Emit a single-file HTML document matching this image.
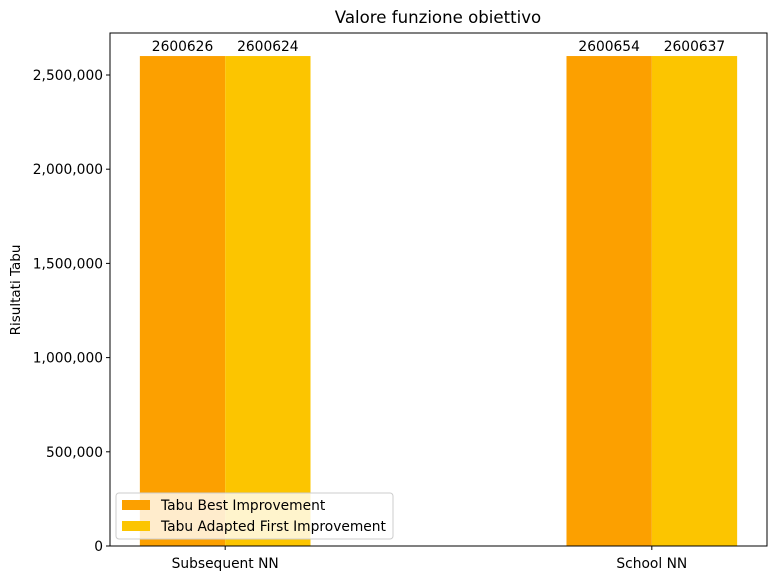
<!DOCTYPE html>
<html><head><meta charset="utf-8"><style>
body{margin:0;background:#fff;}
svg text{font-family:"DejaVu Sans","Liberation Sans",sans-serif;fill:#000;}
</style></head><body>
<svg id="chart" width="777" height="580" xmlns="http://www.w3.org/2000/svg">
<text x="438" y="23" font-size="16.6" text-anchor="middle">Valore funzione obiettivo</text>
<text transform="translate(20,290) rotate(-90)" font-size="13.5" text-anchor="middle">Risultati Tabu</text>
<g id="bars"></g>
<g id="yaxis"></g>
<g id="xaxis"></g>
<rect x="110" y="33" width="657" height="513" fill="none" stroke="#000" stroke-width="1"/>
<g>
<rect x="116" y="493" width="277" height="46" rx="3" fill="#fff" fill-opacity="0.8" stroke="#ccc"/>
<rect x="122" y="500" width="28" height="10" fill="#FCA000"/>
<text x="161" y="510" font-size="13.8">Tabu Best Improvement</text>
<rect x="122" y="521" width="28" height="10" fill="#FCC500"/>
<text x="161" y="531" font-size="13.8">Tabu Adapted First Improvement</text>
</g>
</svg>
<script>
const categories=["Subsequent NN","School NN"];
const bestValues=[2600626,2600654];
const firstValues=[2600624,2600637];
const yTicks=[0,500000,1000000,1500000,2000000,2500000];
const NS="http://www.w3.org/2000/svg";
const x0=110,x1=767,y0=546;
const xs=v=>x0+(v+0.27)/(1.54)*(x1-x0);
const ys=v=>y0-v*(471/2500000);
const bars=document.getElementById('bars'),ya=document.getElementById('yaxis'),xa=document.getElementById('xaxis');
function mk(t,a,p){const e=document.createElementNS(NS,t);for(const k in a)e.setAttribute(k,a[k]);p.appendChild(e);return e;}
const w=0.2;
[[bestValues,"#FCA000",-w/2,"best"],[firstValues,"#FCC500",w/2,"first"]].forEach(([vals,col,off,nm])=>{
vals.forEach((v,i)=>{
const l=xs(i+off-w/2),r=xs(i+off+w/2);
const b=mk('rect',{x:l,y:ys(v),width:r-l,height:y0-ys(v),fill:col},bars);


const t=mk('text',{x:(l+r)/2,y:ys(v)-5,'font-size':13.8,'text-anchor':'middle'},bars);
t.textContent=v;


});
});
yTicks.forEach(v=>{
const y=ys(v);
mk('line',{x1:x0-4,x2:x0,y1:y,y2:y,stroke:'#000'},ya);
const t=mk('text',{x:x0-7,y:y+5,'font-size':13.8,'text-anchor':'end'},ya);
t.textContent=v.toLocaleString('en-US');


});
categories.forEach((c,i)=>{
const x=xs(i);
mk('line',{x1:x,x2:x,y1:y0,y2:y0+4,stroke:'#000'},xa);
const t=mk('text',{x:x,y:y0+22,'font-size':13.8,'text-anchor':'middle'},xa);
t.textContent=c;


});
</script>
</body></html>
